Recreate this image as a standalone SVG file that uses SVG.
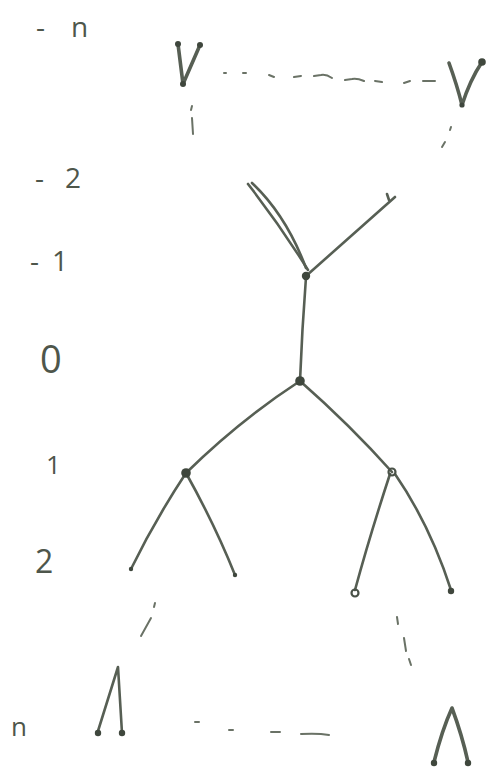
<svg xmlns="http://www.w3.org/2000/svg" width="486" height="772" viewBox="0 0 486 772">
<style>
.ink{fill:none;stroke:#575f54;stroke-width:2.6;stroke-linecap:round;stroke-linejoin:round}
.thick{stroke-width:3.6}
.dash{fill:none;stroke:#6a7266;stroke-width:2;stroke-linecap:round}
.dot{fill:#3f473d}
.lbl{font-family:"Open Sans","Liberation Sans",sans-serif;font-weight:400;fill:#4e564b}
</style>
<rect width="486" height="772" fill="#ffffff"/>
<g id="labels">
<text class="lbl" y="37" font-size="28"><tspan x="36">-</tspan><tspan x="71">n</tspan></text>
<text class="lbl" y="188" font-size="28"><tspan x="35">-</tspan><tspan x="65">2</tspan></text>
<text class="lbl" y="271" font-size="28"><tspan x="30">-</tspan><tspan x="52">1</tspan></text>
<text class="lbl" x="40" y="373" font-size="38">0</text>
<text class="lbl" x="46" y="474" font-size="26">1</text>
<text class="lbl" x="35" y="573" font-size="32">2</text>
<text class="lbl" x="11" y="736" font-size="26">n</text>
</g>
<g id="connectors">
<path class="ink" d="M248,184 Q280,225 308,270"/>
<path class="ink" d="M252,183 Q286,215 306,268"/>
<path class="ink" d="M306,276 L395,197"/>
<path class="ink" d="M387,194 L389,200"/>
<path class="ink" d="M306,277 Q302,330 300,381"/>
<path class="ink" d="M300,381 Q240,420 186,473"/>
<path class="ink" d="M300,381 Q350,425 392,472"/>
<path class="ink" d="M186,473 Q155,520 131,569"/>
<path class="ink" d="M186,473 Q215,525 235,575"/>
<path class="ink" d="M390,474 Q370,535 355,590"/>
<path class="ink" d="M395,474 Q430,525 451,590"/>
<path class="dash" d="M224,73 L226,73 M243,73 L246,73 M269,75 L274,77 M294,77 L301,76 M314,76 L321,75 Q326,74 332,78 M345,80 L352,79 Q357,78 364,81 M375,81 L382,82 M404,83 L410,81 M423,81 L435,81"/>
<path class="dash" d="M192,106 L191,110 M192,118 L193,134"/>
<path class="dash" d="M451,127 L450,130 M445,142 L442,147"/>
<path class="dash" d="M155,603 L154,607 M151,618 L141,636"/>
<path class="dash" d="M397,617 L398,624 M404,638 L406,651 M409,659 L411,665"/>
<path class="dash" d="M195,722 L199,722 M229,730 L233,730 M271,732 L280,732 M301,734 Q318,733 329,735"/>
</g>
<g id="node-top-left">
<path class="ink thick" d="M178,44 L183,84 L200,45"/>
<circle class="dot" cx="178" cy="44" r="3"/>
<circle class="dot" cx="183" cy="84" r="3"/>
<circle class="dot" cx="200" cy="45" r="3"/>
</g>
<g id="node-top-right">
<path class="ink thick" d="M449,63 Q457,85 462,105 Q470,80 482,62"/>
<circle class="dot" cx="462" cy="105" r="2.6"/>
<circle class="dot" cx="482" cy="62" r="3.8"/>
</g>
<g id="node-minus1"><circle class="dot" cx="306" cy="276" r="4.2"/></g>
<g id="node-0"><circle class="dot" cx="300" cy="381" r="4.8"/></g>
<g id="node-1-left"><circle class="dot" cx="186" cy="473" r="4.8"/></g>
<g id="node-1-right"><circle cx="392" cy="472" r="3.5" fill="none" stroke="#4a5248" stroke-width="2.2"/></g>
<g id="leaf-2a"><circle class="dot" cx="131" cy="569" r="2.2"/></g>
<g id="leaf-2b"><circle class="dot" cx="235" cy="575" r="2.2"/></g>
<g id="leaf-2c"><circle cx="355" cy="593" r="3.5" fill="none" stroke="#4a5248" stroke-width="2.2"/></g>
<g id="leaf-2d"><circle class="dot" cx="451" cy="591" r="3.2"/></g>
<g id="node-bottom-left">
<path class="ink" d="M98,731 L118,667 L122,733"/>
<circle class="dot" cx="98" cy="733" r="3.2"/>
<circle class="dot" cx="122" cy="733" r="3.2"/>
</g>
<g id="node-bottom-right">
<path class="ink thick" d="M434,762 Q442,730 452,708 Q462,735 468,762"/>
<circle class="dot" cx="434" cy="763" r="3.2"/>
<circle class="dot" cx="468" cy="763" r="3.2"/>
</g>
</svg>
